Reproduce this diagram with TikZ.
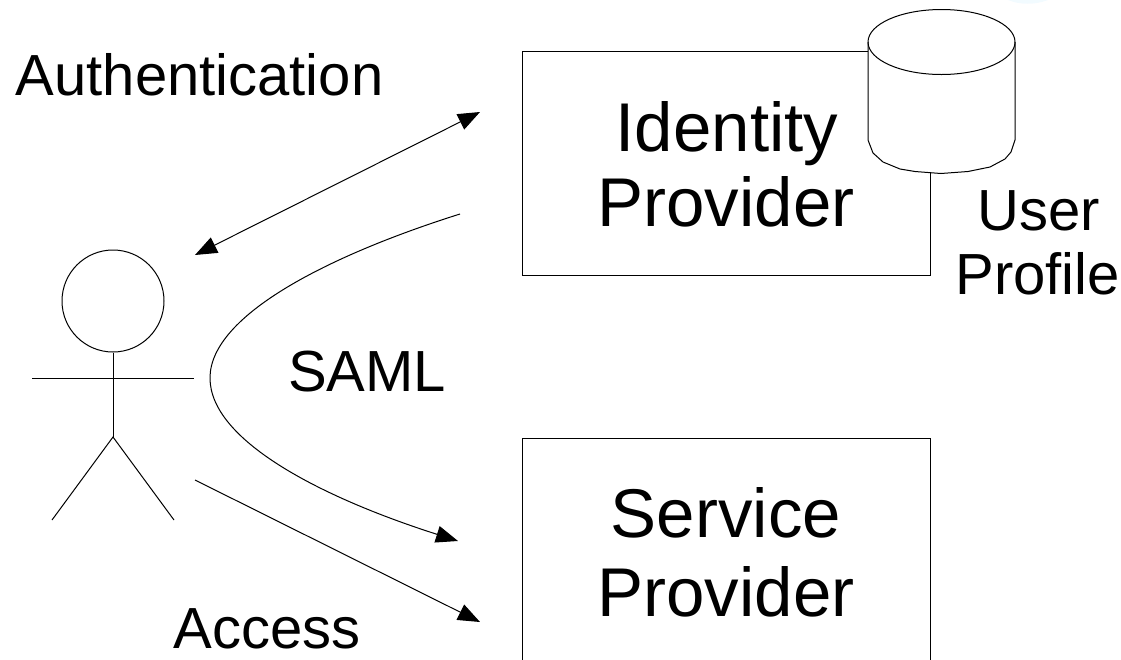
\documentclass[tikz,border=0pt]{standalone}
\usepackage{fontspec}
\setmainfont{Liberation Sans}
\usetikzlibrary{arrows.meta}
\tikzset{
  ln/.style={draw=black,line width=1pt},
  tip/.style={-{Triangle[length=22pt,width=17pt,fill=black]}},
  both/.style={{Triangle[length=22pt,width=17pt,fill=black]}-{Triangle[length=22pt,width=17pt,fill=black]}},
  big/.style={inner sep=0pt,anchor=base,font=\fontsize{69}{69}\selectfont},
  small/.style={inner sep=0pt,anchor=base,font=\fontsize{58}{58}\selectfont}
}
\begin{document}
\begin{tikzpicture}[x=1pt,y=-1pt]
\useasboundingbox (0,0) rectangle (1121,659);
\fill[white] (0,0) rectangle (1121,659);
\fill[blue!30!cyan,opacity=.05] (1008,0) .. controls (1020,5) and (1035,5) .. (1048,0) -- cycle;
\begin{scope}
\clip (0,0) rectangle (1121,659);
\node[ln,minimum width=408pt,minimum height=224pt,inner sep=0pt] (idp) at (726,163) {};
\node[ln,minimum width=408pt,minimum height=224pt,inner sep=0pt] (sp) at (726,550) {};
\end{scope}
% database
\path[ln,fill=white] (868,42) -- (868,140) -- (873,153) -- (883,162) -- (900,169) -- (915,171.5) -- (941,173.5) -- (968,171.5) -- (990,167) -- (1005,159) -- (1011,152) -- (1015,140) -- (1015,42)
  arc[start angle=0,end angle=180,x radius=73.5pt,y radius=32.5pt] -- cycle;
\draw[ln] (1015,42) arc[start angle=0,end angle=-180,x radius=73.5pt,y radius=32.5pt];
\node[big] (t1) at (727,151) {Identity};
\node[big] (t2) at (726,226) {Provider};
\node[big] (t3) at (726,537) {Service};
\node[big] (t4) at (726,616) {Provider};
\node[small] (t5) at (199.5,95) {Authentication};
\node[small] (t6) at (1038.5,230) {User};
\node[small] (t7) at (1037.5,294) {Profile};
\node[small] (t8) at (367,391) {SAML};
\node[small] (t9) at (267,648) {Access};
% actor
\node[ln,circle,minimum size=102pt,inner sep=0pt] (head) at (113,301) {};
\coordinate (hip) at (113,437);
\coordinate (armL) at (32,378);
\coordinate (armR) at (194,378);
\coordinate (legL) at (52,520);
\coordinate (legR) at (174,520);
\draw[ln] (head.south) -- (hip);
\draw[ln] (armL) -- (armR);
\draw[ln] (legL) -- (hip) -- (legR);
% connectors
\coordinate (a1) at (195,255);
\coordinate (a2) at (480,112);
\coordinate (c1) at (460,214);
\coordinate (c2) at (210,378);
\coordinate (c3) at (458,541);
\coordinate (b1) at (195,480);
\coordinate (b2) at (480,622);
\draw[ln,both] (a1) -- (a2);
\draw[ln,tip] (c1) .. controls (330,255) and (210,315) .. (c2) .. controls (210,440) and (320,497) .. (c3);
\draw[ln,tip] (b1) -- (b2);
\end{tikzpicture}
\end{document}
